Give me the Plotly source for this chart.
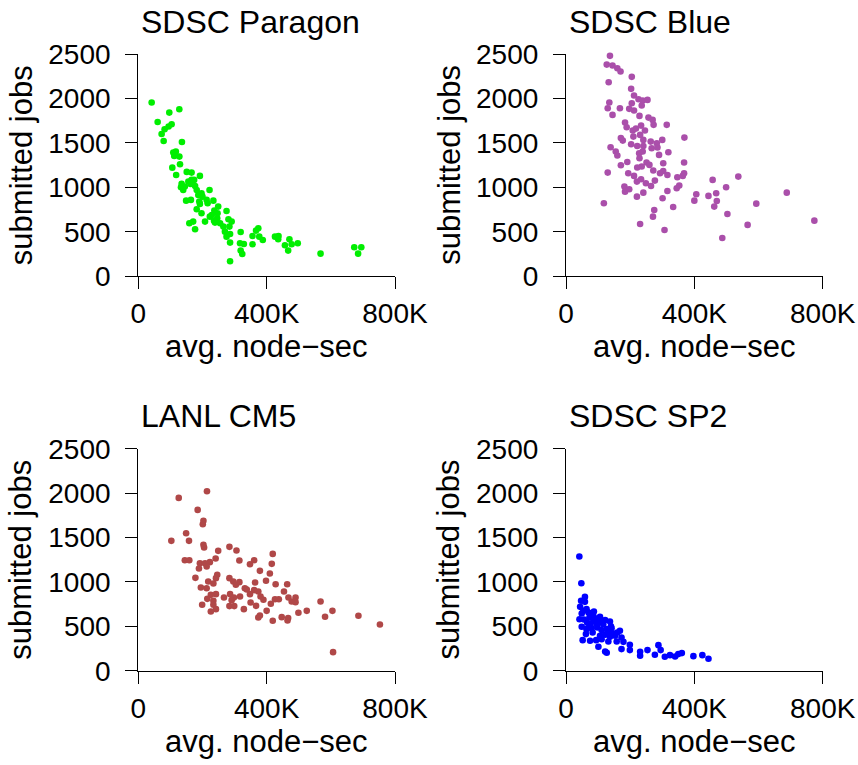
import plotly.graph_objects as go

# ---------------- data ----------------
titles = ["SDSC Paragon", "SDSC Blue", "LANL CM5", "SDSC SP2"]
colors = ["#00EE00", "#AA4FAA", "#B04848", "#0000FF"]

paragon_x = [41.6, 96.6, 127.8, 60.3, 103.9, 94.5, 82, 72.7, 79, 136, 109, 117, 112, 128, 130, 106, 118, 151, 166, 192,
             135, 145, 133, 163, 174, 177, 182, 197, 222, 200, 187, 149, 164, 234, 216, 249, 192, 182, 197, 237,
             247, 275, 223, 208, 236, 246, 281, 291, 265, 270, 286, 275, 286, 159, 171, 177, 286, 319, 317, 329,
             319, 324, 356, 356, 367, 374, 377, 388, 426, 437, 436, 457, 471, 478, 497, 467, 568, 673, 695, 685,
             213, 229, 255, 239, 284, 190, 140, 166, 156]
paragon_y = [1954, 1841, 1879, 1736, 1710, 1684, 1654, 1601, 1522, 1511, 1391, 1402, 1354, 1346, 1260, 1222, 1140, 1174, 1166, 1129,
             1039, 1009, 1001, 1039, 1084, 1016, 971, 934, 971, 896, 915, 851, 859, 851, 821, 784, 814, 754, 709, 739,
             709, 735, 671, 615, 626, 652, 641, 615, 559, 502, 476, 446, 379, 596, 615, 529, 169, 499, 371, 364,
             289, 251, 360, 454, 514, 540, 446, 409, 446, 454, 416, 349, 416, 360, 371, 289, 255, 326, 326, 255,
             859, 690, 596, 604, 559, 840, 971, 1084, 1065]

blue_x = [137, 127, 145, 160, 170, 205, 133, 203, 212, 226, 239, 254, 236, 205, 197, 212, 135, 130, 168, 145,
          229, 257, 270, 273, 314, 184, 189, 208, 218, 234, 246, 210, 231, 171, 177, 241, 264, 283, 300, 203,
          222, 241, 267, 285, 139, 155, 160, 228, 239, 290, 319, 369, 229, 251, 191, 171, 236, 222, 260, 303,
          368, 272, 303, 316, 293, 130, 194, 212, 221, 234, 249, 265, 277, 347, 364, 368, 353, 345, 316, 182,
          184, 197, 241, 221, 301, 334, 275, 271, 231, 307, 118, 406, 400, 444, 457, 468, 470, 462, 499, 537,
          503, 487, 566, 593, 688, 774]
blue_y = [2479, 2381, 2370, 2340, 2303, 2243, 2183, 2108, 2033, 1991, 1976, 1984, 1920, 1946, 1883, 1864, 1954, 1890, 1890, 1815,
          1804, 1785, 1759, 1703, 1703, 1729, 1676, 1639, 1661, 1695, 1639, 1571, 1590, 1556, 1526, 1534, 1515, 1496, 1534, 1485,
          1466, 1466, 1440, 1448, 1451, 1403, 1358, 1384, 1403, 1365, 1395, 1560, 1328, 1279, 1286, 1249, 1234, 1223, 1253, 1271,
          1279, 1189, 1185, 1140, 1159, 1166, 1159, 1129, 1065, 1091, 1046, 1016, 1076, 1114, 1129, 1159, 1020, 990, 960, 1009,
          952, 979, 941, 896, 877, 780, 746, 671, 589, 521, 821, 922, 851, 904, 1084, 934, 847, 784, 1001, 1121,
          701, 431, 578, 817, 941, 626]

cm5_x = [126, 214, 185, 203, 201, 149, 103, 158, 203, 205, 249, 284, 306, 419, 145, 159, 192, 208, 223, 241,
         189, 213, 315, 348, 361, 416, 379, 410, 178, 246, 242, 218, 234, 284, 296, 315, 364, 398, 428, 464,
         195, 213, 332, 361, 374, 454, 226, 242, 267, 286, 298, 317, 348, 381, 215, 234, 291, 390, 426, 438,
         468, 490, 478, 490, 413, 199, 234, 350, 367, 284, 299, 329, 242, 226, 400, 499, 525, 568, 605, 582,
         686, 753, 374, 379, 419, 447, 467, 465, 607, 304, 338]
cm5_y = [1946, 2021, 1811, 1688, 1650, 1549, 1463, 1463, 1418, 1388, 1350, 1395, 1354, 1316, 1245, 1245, 1211, 1211, 1223, 1264,
         1151, 1174, 1241, 1200, 1245, 1204, 1125, 1095, 1046, 1080, 1043, 1005, 983, 1043, 1005, 998, 994, 1013, 975, 975,
         938, 930, 930, 908, 893, 893, 855, 863, 825, 863, 825, 836, 863, 836, 810, 788, 795, 799, 806, 806,
         825, 825, 780, 773, 754, 743, 743, 769, 731, 728, 728, 694, 694, 668, 675, 653, 675, 780, 675, 608,
         619, 521, 600, 623, 563, 604, 593, 566, 210, 968, 915]

sp2_x = [41.6, 47.8, 59, 47, 59, 44, 54, 64, 87, 42, 56, 73, 85, 104, 122, 137, 49, 64, 80, 98,
         111, 127, 142, 168, 62, 83, 106, 122, 137, 153, 173, 52, 75, 94, 111, 132, 158, 179, 101, 173,
         199, 199, 122, 127, 231, 231, 254, 277, 288, 295, 308, 324, 340, 350, 361, 397, 425, 444,
         75, 96, 116, 132, 148, 85, 106, 70, 49, 90, 140, 160, 66, 112]
sp2_y = [1286, 986, 832, 788, 776, 720, 675, 694, 668, 581, 578, 600, 555, 570, 570, 555, 495, 469, 480, 488,
         458, 469, 480, 450, 413, 431, 394, 405, 383, 394, 375, 345, 338, 345, 356, 330, 330, 326, 270, 244,
         293, 233, 218, 203, 214, 169, 233, 180, 289, 233, 158, 176, 161, 188, 199, 165, 176, 135,
         525, 525, 525, 443, 420, 619, 608, 656, 645, 590, 500, 430, 540, 560]

series_x = [paragon_x, blue_x, cm5_x, sp2_x]
series_y = [paragon_y, blue_y, cm5_y, sp2_y]

x_tickvals = [0, 400000, 800000]
x_ticktext = ["0", "400K", "800K"]
y_tickvals = [0, 500, 1000, 1500, 2000, 2500]
y_ticktext = ["0", "500", "1000", "1500", "2000", "2500"]
x_title = "avg. node\u2212sec"
y_title = "submitted jobs"

# ---------------- layout geometry ----------------
W, H = 858, 765
xdoms = [[138.3 / W, 395.0 / W], [566.0 / W, 822.7 / W]]
ydoms = [[1 - 276.3 / H, 1 - 54.0 / H], [1 - 670.8 / H, 1 - 448.7 / H]]

FONT = "Liberation Sans, Arial, Helvetica, sans-serif"
fig = go.Figure()
layout = dict(
    width=W, height=H, margin=dict(l=0, r=0, t=0, b=0, autoexpand=False),
    paper_bgcolor="white", plot_bgcolor="white", showlegend=False,
    font=dict(family=FONT, color="black"),
)
annotations = []
for i in range(4):
    col, row = i % 2, i // 2
    xa = "xaxis" if i == 0 else f"xaxis{i+1}"
    ya = "yaxis" if i == 0 else f"yaxis{i+1}"
    xr = "x" if i == 0 else f"x{i+1}"
    yr = "y" if i == 0 else f"y{i+1}"
    fig.add_trace(go.Scatter(
        x=[v * 1000 for v in series_x[i]], y=series_y[i], mode="markers",
        marker=dict(size=6.6, color=colors[i], line=dict(width=0)),
        xaxis=xr, yaxis=yr, cliponaxis=False, hoverinfo="skip"))
    common = dict(showgrid=False, zeroline=False, showline=True, linecolor="black", linewidth=1.2,
                  ticks="outside", ticklen=12, tickwidth=1.2, tickcolor="black", automargin=False,
                  tickfont=dict(size=28, family=FONT, color="black"), fixedrange=True)
    layout[xa] = dict(domain=xdoms[col], range=[0, 800000], tickmode="array",
                      tickvals=x_tickvals, ticktext=x_ticktext, anchor=yr, **common)
    layout[ya] = dict(domain=ydoms[row], range=[0, 2500], tickmode="array",
                      tickvals=y_tickvals, ticktext=y_ticktext, anchor=xr,
                      ticklabelstandoff=9, **common)
    x0px = xdoms[col][0] * W
    x1px = xdoms[col][1] * W
    top_base = 33 + row * 394.5
    # main title
    annotations.append(dict(text=titles[i], xref="paper", yref="paper", x=(x0px + 0.5) / W,
                            y=1 - (top_base - 11.5) / H, xanchor="left", yanchor="middle",
                            showarrow=False, font=dict(size=32, family=FONT, color="black")))
    # x title
    xt_base = 358 + row * 394.5
    annotations.append(dict(text=x_title, xref="paper", yref="paper", x=(x0px + x1px) / 2 / W,
                            y=1 - (xt_base - 11) / H, xanchor="center", yanchor="middle",
                            showarrow=False, font=dict(size=31, family=FONT, color="black")))
    # y title
    yc = (ydoms[row][0] + ydoms[row][1]) / 2
    yt_x = 21 + col * 427.7
    annotations.append(dict(text=y_title, xref="paper", yref="paper", x=yt_x / W, y=yc,
                            xanchor="center", yanchor="middle", textangle=-90,
                            showarrow=False, font=dict(size=31, family=FONT, color="black")))
layout["annotations"] = annotations
fig.update_layout(**layout)
fig.write_html("out.html")
